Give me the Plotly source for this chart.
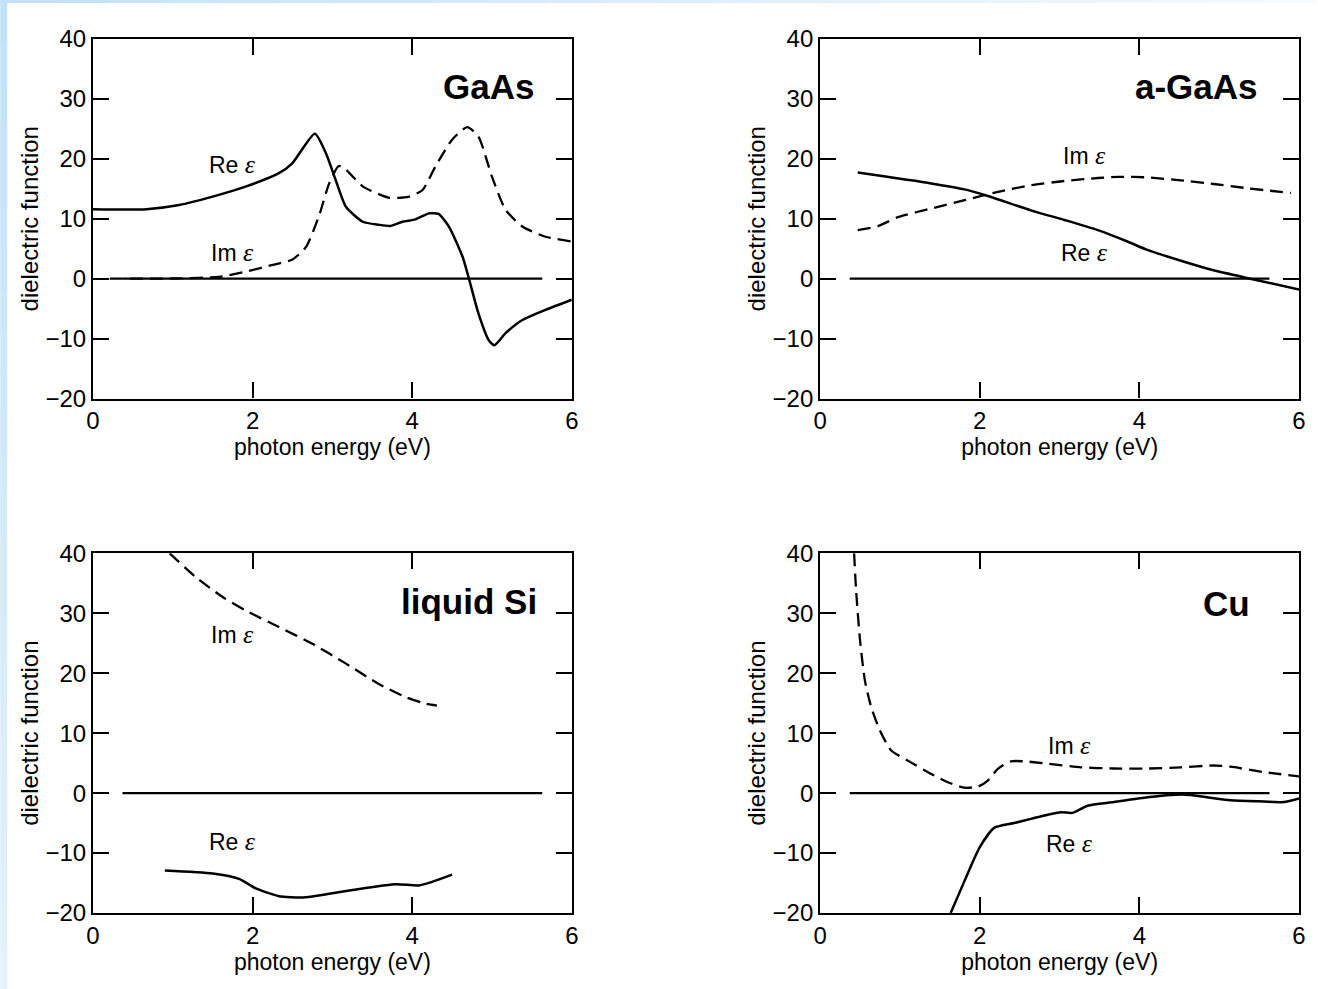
import plotly.graph_objects as go

# ---------------- data ----------------
gaas_re_x = [0, 0.67, 1.08, 1.5, 1.92, 2.33, 2.5, 2.78, 2.92, 3.04, 3.17, 3.38, 3.58, 3.73, 3.88,
             4.04, 4.21, 4.33, 4.46, 4.63, 4.71, 4.83, 4.96, 5.03, 5.17, 5.38, 5.67, 6.0]
gaas_re_y = [11.6, 11.6, 12.3, 13.7, 15.4, 17.6, 19.3, 24.2, 20.9, 16.5, 12.0, 9.5, 9.0, 8.8, 9.5,
             9.9, 10.9, 10.8, 8.7, 3.7, 0.05, -5.8, -10.3, -11.1, -9.1, -6.9, -5.2, -3.5]
gaas_im_x = [0.21, 1.08, 1.58, 1.92, 2.25, 2.5, 2.67, 2.83, 2.96, 3.08, 3.17, 3.38, 3.71, 3.96,
             4.13, 4.29, 4.5, 4.69, 4.83, 5.0, 5.17, 5.38, 5.67, 6.0]
gaas_im_y = [0, 0.05, 0.3, 1.2, 2.3, 3.2, 5.3, 10.4, 15.9, 18.8, 18.2, 15.4, 13.5, 13.7,
             14.8, 18.7, 23.2, 25.3, 23.7, 17.0, 11.5, 8.7, 7.0, 6.2]

agaas_re_x = [0.47, 1.39, 1.81, 2.1, 2.64, 3.06, 3.48, 3.85, 4.1, 4.52, 4.93, 5.39, 6.0]
agaas_re_y = [17.7, 15.9, 14.9, 13.8, 11.4, 9.8, 8.1, 6.2, 4.8, 3.0, 1.4, 0.0, -1.8]
agaas_im_x = [0.47, 0.73, 0.98, 1.39, 1.81, 2.23, 2.64, 3.06, 3.48, 3.73, 4.1, 4.52, 4.93, 5.35, 5.9]
agaas_im_y = [8.1, 8.8, 10.3, 11.7, 13.1, 14.5, 15.6, 16.3, 16.8, 17.0, 16.9, 16.4, 15.8, 15.1, 14.3]

lsi_re_x = [0.9, 1.5, 1.83, 2.04, 2.33, 2.63, 2.96, 3.38, 3.79, 4.08, 4.25, 4.5]
lsi_re_y = [-12.9, -13.4, -14.3, -15.9, -17.2, -17.4, -16.8, -15.9, -15.2, -15.4, -14.8, -13.6]
lsi_im_x = [0.96, 1.29, 1.625, 1.92, 2.33, 2.75, 3.17, 3.58, 3.92, 4.17, 4.31]
lsi_im_y = [40.0, 36.0, 32.7, 30.4, 27.7, 24.9, 21.6, 18.2, 16.0, 14.9, 14.6]

cu_re_x = [1.635, 1.81, 2.0, 2.18, 2.43, 2.64, 2.85, 3.02, 3.16, 3.35, 3.68, 4.1, 4.39, 4.64,
           4.85, 5.14, 5.56, 5.81, 6.0]
cu_re_y = [-20.0, -14.6, -9.0, -5.8, -5.0, -4.3, -3.6, -3.2, -3.3, -2.1, -1.5, -0.7, -0.3, -0.3,
           -0.7, -1.2, -1.4, -1.5, -0.9]
cu_im_x = [0.425, 0.45, 0.5, 0.56, 0.64, 0.75, 0.89, 1.1, 1.39, 1.6, 1.81, 1.98, 2.1, 2.23, 2.39,
           2.56, 2.85, 3.27, 3.68, 4.1, 4.52, 4.93, 5.14, 5.56, 6.0]
cu_im_y = [40.0, 33.8, 25.4, 18.8, 14.3, 10.4, 7.1, 5.4, 3.2, 1.8, 0.9, 1.1, 2.1, 4.1, 5.3,
           5.3, 4.9, 4.3, 4.1, 4.1, 4.3, 4.6, 4.4, 3.5, 2.8]

panel_names = ["GaAs", "a-GaAs", "liquid Si", "Cu"]
zero_line_x = [0.37, 5.63]
x_ticks = [0, 2, 4, 6]
y_ticks = [-20, -10, 0, 10, 20, 30, 40]
x_title = "photon energy (eV)"
y_title = "dielectric function"

# label positions (data coords) per panel: (name_x, name_y, im_x, im_y, re_x, re_y)
label_pos = [
    (5.55, 32.0, 1.75, 4.3, 1.75, 19.0),
    (5.51, 32.0, 3.31, 20.5, 3.31, 4.3),
    (5.59, 32.0, 1.75, 26.5, 1.75, -8.1),
    (5.41, 31.7, 3.12, 8.0, 3.12, -8.4),
]

series = [
    (gaas_re_x, gaas_re_y, gaas_im_x, gaas_im_y),
    (agaas_re_x, agaas_re_y, agaas_im_x, agaas_im_y),
    (lsi_re_x, lsi_re_y, lsi_im_x, lsi_im_y),
    (cu_re_x, cu_re_y, cu_im_x, cu_im_y),
]

# ---------------- layout geometry ----------------
W, H = 1318, 989
ML, MR, MT, MB = 93, 16, 39, 76
PW, PH = W - ML - MR, H - MT - MB

x_domains = [[0, 480 / PW], [(822 - ML) / PW, 1.0]]
y_domains = [[(913 - 398.5) / PH, 1.0], [0, (913 - 553.3) / PH]]

FONT = "Liberation Sans, Arial, Helvetica, sans-serif"
EPS = "<span style='font-family:Liberation Serif, Times New Roman, serif;font-size:26px'><i>ε</i></span>"

fig = go.Figure()
layout = dict(
    width=W, height=H,
    margin=dict(l=ML, r=MR, t=MT, b=MB),
    paper_bgcolor="white", plot_bgcolor="white",
    showlegend=False,
    font=dict(family=FONT, color="black", size=22),
)

annotations = []
shapes = []

for i in range(4):
    r, c = divmod(i, 2)
    sfx = "" if i == 0 else str(i + 1)
    xa, ya = "x" + sfx, "y" + sfx
    re_x, re_y, im_x, im_y = series[i]
    fig.add_trace(go.Scatter(x=im_x, y=im_y, mode="lines", xaxis=xa, yaxis=ya,
                             line=dict(color="black", width=2.3, dash="13px,7px",
                                       shape="spline", smoothing=0.6),
                             hoverinfo="skip"))
    fig.add_trace(go.Scatter(x=re_x, y=re_y, mode="lines", xaxis=xa, yaxis=ya,
                             line=dict(color="black", width=2.5,
                                       shape="spline", smoothing=0.6),
                             hoverinfo="skip"))
    common = dict(showline=True, linecolor="black", linewidth=2.2, mirror="ticks",
                  ticks="inside", ticklen=16, tickwidth=2, tickcolor="black",
                  showgrid=False, zeroline=False,
                  tickfont=dict(family=FONT, size=24, color="black"))
    layout["xaxis" + sfx] = dict(domain=x_domains[c], anchor=ya, range=[0, 6],
                                 tickvals=x_ticks, ticktext=[str(v) for v in x_ticks],
                                 title=dict(text=x_title, font=dict(family=FONT, size=23),
                                            standoff=5),
                                 **common)
    layout["yaxis" + sfx] = dict(domain=y_domains[r], anchor=xa, range=[-20, 40],
                                 tickvals=y_ticks,
                                 title=dict(text=y_title, font=dict(family=FONT, size=24),
                                            standoff=0),
                                 **common)
    shapes.append(dict(type="line", xref=xa, yref=ya, x0=zero_line_x[0], x1=zero_line_x[1],
                       y0=0, y1=0, line=dict(color="black", width=2.2)))
    nx, ny, ix, iy, rx, ry = label_pos[i]
    annotations.append(dict(xref=xa, yref=ya, x=nx, y=ny, text="<b>%s</b>" % panel_names[i],
                            showarrow=False, xanchor="right", yanchor="middle",
                            font=dict(family=FONT, size=35, color="black")))
    annotations.append(dict(xref=xa, yref=ya, x=ix, y=iy, text="Im " + EPS,
                            showarrow=False, xanchor="center", yanchor="middle",
                            font=dict(family=FONT, size=23, color="black")))
    annotations.append(dict(xref=xa, yref=ya, x=rx, y=ry, text="Re " + EPS,
                            showarrow=False, xanchor="center", yanchor="middle",
                            font=dict(family=FONT, size=23, color="black")))

# light blue frame strips (top and left edges) as paper-referenced rectangles
def px2paper_x(px):
    return (px - ML) / PW

def px2paper_y(py):
    return (H - MB - py) / PH

n = 24
for k in range(n):
    t = k / (n - 1)
    rr = int(195 + 50 * t); gg = int(226 + 24 * t); bb = int(248 + 6 * t)
    shapes.append(dict(type="rect", xref="paper", yref="paper", layer="below",
                       x0=px2paper_x(W * k / n), x1=px2paper_x(W * (k + 1) / n + 1),
                       y0=px2paper_y(3), y1=px2paper_y(0),
                       fillcolor="rgb(%d,%d,%d)" % (rr, gg, bb), line=dict(width=0)))
    rr = int(195 + 32 * t); gg = int(226 + 16 * t); bb = int(248 + 3 * t)
    shapes.append(dict(type="rect", xref="paper", yref="paper", layer="below",
                       x0=px2paper_x(0), x1=px2paper_x(7),
                       y0=px2paper_y(H * (k + 1) / n + 1), y1=px2paper_y(H * k / n),
                       fillcolor="rgb(%d,%d,%d)" % (rr, gg, bb), line=dict(width=0)))

layout["annotations"] = annotations
layout["shapes"] = shapes
fig.update_layout(**layout)

fig.write_html("out.html", config={"displayModeBar": False},
               post_script="document.body.style.margin='0';document.body.style.overflow='hidden';")
